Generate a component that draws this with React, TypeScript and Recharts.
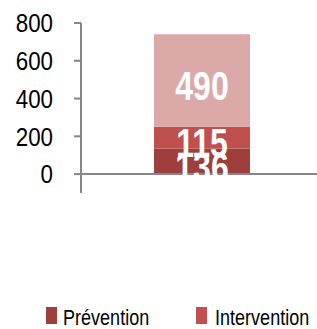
import React from 'react';
import { BarChart, Bar, XAxis, YAxis, LabelList, ReferenceLine, Legend } from 'recharts';

const categories = [''];
const seriesNames = ['Prévention', 'Intervention', 'Autre'];
const prevention = [136];
const intervention = [115];
const autre = [490];
const yTicks = [0, 200, 400, 600, 800];

const colors = ['#9E3F3D', '#C0504D', '#DAA9A8'];
const keys = ['prevention', 'intervention', 'autre'];

const data = categories.map((c, i) => ({
  name: c,
  prevention: prevention[i],
  intervention: intervention[i],
  autre: autre[i],
}));

const font = '"Liberation Sans", Arial, sans-serif';
const axisGrey = '#868686';

const renderLabel = (props: any) => {
  const x = Number(props.x);
  const y = Number(props.y);
  const w = Number(props.width);
  const h = Number(props.height);
  const fs = 40;
  const cx = x + w / 2;
  const cy = y + h / 2 + 5 + 0.358 * fs;
  return (
    <g transform={`translate(${cx},${cy})`}>
      <text x={0} y={0} transform="scale(0.8,1)" textAnchor="middle" fill="#ffffff" fontFamily={font} fontWeight="bold" fontSize={fs}>
        {props.value}
      </text>
    </g>
  );
};

const renderTick = (props: any) => {
  const x = Number(props.x);
  const y = Number(props.y);
  return (
    <g transform={`translate(${x},${y + 0.358 * 26})`}>
      <text x={0} y={0} transform="scale(0.86,1)" textAnchor="end" fill="#000" fontFamily={font} fontSize={26}>
        {props.payload.value}
      </text>
    </g>
  );
};

const renderLegend = () => (
  <svg width={317} height={40} style={{ display: 'block' }}>
    {seriesNames.map((n, i) => (
      <g key={n}>
        <rect x={46 + i * 150} y={12} width={11} height={17} fill={colors[i]} />
        <g transform={`translate(${63 + i * 152},30)`}>
          <text x={0} y={0} transform="scale(0.82,1)" fontFamily={font} fontSize={22} fill="#000">
            {n}
          </text>
        </g>
      </g>
    ))}
  </svg>
);

export default function App() {
  return (
    <div style={{ position: 'absolute', left: 0, top: 0, width: 317, height: 329, overflow: 'hidden', background: '#fff' }}>
      <BarChart width={317} height={329} data={data} margin={{ top: 23, right: -6, bottom: 136, left: 0 }}>
        <XAxis dataKey="name" hide />
        <YAxis
          width={81}
          domain={[-100, 800]}
          ticks={yTicks}
          interval={0}
          axisLine={{ stroke: axisGrey, strokeWidth: 2 }}
          tickLine={{ stroke: axisGrey, strokeWidth: 2 }}
          tickSize={7}
          tickMargin={21}
          tick={renderTick}
        />
        {keys.map((k, i) => (
          <Bar key={k} dataKey={k} name={seriesNames[i]} stackId="a" fill={colors[i]} barSize={96} isAnimationActive={false}>
            <LabelList dataKey={k} content={renderLabel} />
          </Bar>
        ))}
        <ReferenceLine y={0} stroke={axisGrey} strokeWidth={2} />
        <Legend
          layout="horizontal"
          verticalAlign="middle"
          align="center"
          content={renderLegend}
          wrapperStyle={{ position: 'absolute', left: 0, top: 295, width: 317, height: 40 }}
        />
      </BarChart>
    </div>
  );
}
